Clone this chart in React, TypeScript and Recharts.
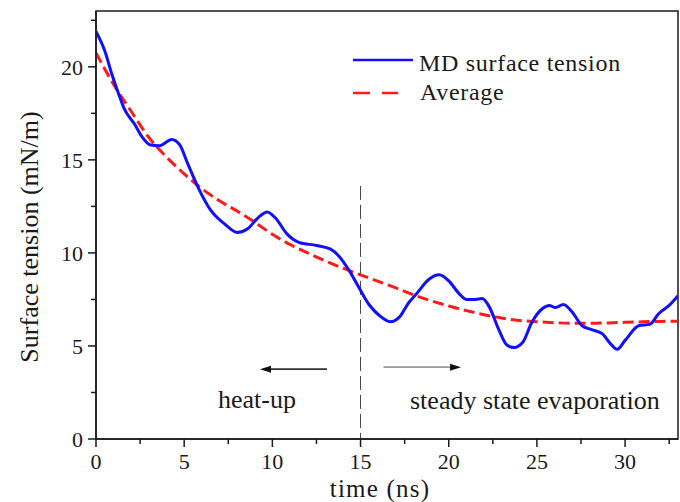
import React from 'react';
import { LineChart, Line, XAxis, YAxis, ReferenceLine, ReferenceArea } from 'recharts';

// MD surface tension
const mdTime = [0, 0.5, 0.9, 1.3, 1.6, 2.2, 2.6, 3.1, 3.6, 4.3, 4.75, 5.2, 5.8, 6.5, 7.3, 8.0, 8.6, 9.2, 9.7, 10.2, 10.8, 11.5, 12.5, 13.3, 13.8, 14.35, 14.9, 15.5, 16.05, 16.7, 17.2, 17.75, 18.1, 18.9, 19.45, 20.0, 20.6, 21.0, 21.5, 21.9, 22.3, 22.85, 23.3, 23.7, 24.2, 24.7, 25.3, 25.7, 26.05, 26.5, 27.0, 27.55, 28.1, 28.7, 29.1, 29.55, 30.0, 30.8, 31.4, 31.9, 32.5, 33.0];
const mdTension = [21.9, 20.85, 19.6, 18.5, 17.75, 16.9, 16.25, 15.8, 15.76, 16.1, 15.8, 14.8, 13.5, 12.3, 11.55, 11.1, 11.3, 11.9, 12.2, 11.85, 11.05, 10.57, 10.4, 10.2, 9.8, 9.06, 8.15, 7.2, 6.65, 6.3, 6.55, 7.35, 7.72, 8.6, 8.82, 8.5, 7.8, 7.5, 7.5, 7.55, 7.1, 5.85, 5.05, 4.92, 5.2, 6.25, 7.0, 7.18, 7.06, 7.23, 6.82, 6.1, 5.88, 5.66, 5.2, 4.82, 5.3, 6.1, 6.16, 6.73, 7.18, 7.7];

// Average (fitted) curve
const avgTime = [0, 1, 2, 3, 4, 5, 6, 7, 8, 9, 10, 11, 12, 13, 14, 15, 16, 17, 18, 19, 20, 21, 22, 23, 24, 25, 26, 27, 28, 29, 30, 31, 32, 33];
const avgTension = [20.75, 19.05, 17.6, 16.2, 15.15, 14.25, 13.45, 12.8, 12.25, 11.65, 11.0, 10.45, 10.0, 9.57, 9.18, 8.82, 8.47, 8.12, 7.75, 7.43, 7.15, 6.9, 6.68, 6.5, 6.37, 6.3, 6.25, 6.22, 6.22, 6.24, 6.27, 6.3, 6.32, 6.33];

const xTicks = [0, 2.5, 5, 7.5, 10, 12.5, 15, 17.5, 20, 22.5, 25, 27.5, 30, 32.5];
const yTicks = [0, 2.5, 5, 7.5, 10, 12.5, 15, 17.5, 20, 22.5];
const xDomain = [0, 33];
const yDomain = [0, 23];

const seriesNames = ['MD surface tension', 'Average'];
const xTitle = 'time (ns)';
const yTitle = 'Surface tension (mN/m)';
const leftNote = 'heat-up';
const rightNote = 'steady state evaporation';

// divider and arrows (data coordinates)
const dividerTime = 15;
const dividerTop = 13.6;
const leftArrow = { from: 13.1, to: 9.3, y: 3.75 };
const rightArrow = { from: 16.3, to: 20.7, y: 3.86 };

const mdData = mdTime.map((t, i) => ({ t, v: mdTension[i] }));
const avgData = avgTime.map((t, i) => ({ t, v: avgTension[i] }));

const FONT = '"Liberation Serif", "Times New Roman", Times, serif';
const INK = '#1a1a1a';

const XTick = (props: any) => {
  const { x, y, payload } = props;
  const major = payload.value % 5 === 0;
  return (
    <g>
      <line x1={x} y1={y} x2={x} y2={y + (major ? 8 : 5)} stroke={INK} strokeWidth={1.5} />
      {major && (
        <text x={x} y={y + 30} textAnchor="middle" fontSize={22} fontFamily={FONT} fill={INK}>
          {payload.value}
        </text>
      )}
    </g>
  );
};

const YTick = (props: any) => {
  const { x, y, payload } = props;
  const major = payload.value % 5 === 0;
  return (
    <g>
      <line x1={x - (major ? 8 : 5)} y1={y} x2={x} y2={y} stroke={INK} strokeWidth={1.5} />
      {major && (
        <text x={x - 13} y={y} dy="0.35em" textAnchor="end" fontSize={22} fontFamily={FONT} fill={INK}>
          {payload.value}
        </text>
      )}
    </g>
  );
};

const arrowShape = (lineColor: string) => (props: any) => {
  const { x1, y1, x2, y2 } = props;
  const dir = x2 > x1 ? 1 : -1;
  const headLen = 11;
  const headHalf = 3.5;
  return (
    <g>
      <line x1={x1} y1={y1} x2={x2 - dir * headLen} y2={y2} stroke={lineColor} strokeWidth={1.8} />
      <polygon
        points={`${x2},${y2} ${x2 - dir * headLen},${y2 - headHalf} ${x2 - dir * headLen},${y2 + headHalf}`}
        fill="#111"
      />
    </g>
  );
};

export default function App() {
  return (
    <div style={{ position: 'absolute', left: 0, top: 0 }}>
      <LineChart width={680} height={502} margin={{ top: 11, right: 2, bottom: 0, left: 0 }}>
        <XAxis
          type="number"
          dataKey="t"
          domain={xDomain}
          ticks={xTicks}
          interval={0}
          allowDataOverflow
          height={63}
          tickSize={0}
          tickMargin={0}
          tickLine={false}
          tick={<XTick />}
          axisLine={{ stroke: INK, strokeWidth: 1.5 }}
        />
        <YAxis
          type="number"
          dataKey="v"
          domain={yDomain}
          ticks={yTicks}
          interval={0}
          allowDataOverflow
          width={96}
          tickSize={0}
          tickMargin={0}
          tickLine={false}
          tick={<YTick />}
          axisLine={{ stroke: INK, strokeWidth: 1.5 }}
        />
        <ReferenceArea x1={xDomain[0]} x2={xDomain[1]} y1={yDomain[0]} y2={yDomain[1]} fill="none" fillOpacity={0} stroke={INK} strokeWidth={1.5} />
        <ReferenceLine
          segment={[{ x: dividerTime, y: dividerTop }, { x: dividerTime, y: 0 }]}
          stroke="#444"
          strokeWidth={1}
          strokeDasharray="14 5"
        />
        <ReferenceLine
          segment={[{ x: leftArrow.from, y: leftArrow.y }, { x: leftArrow.to, y: leftArrow.y }]}
          shape={arrowShape('#333')}
        />
        <ReferenceLine
          segment={[{ x: rightArrow.from, y: rightArrow.y }, { x: rightArrow.to, y: rightArrow.y }]}
          shape={arrowShape('#999')}
        />
        <Line
          data={avgData}
          dataKey="v"
          type="monotone"
          stroke="#ff1a1a"
          strokeWidth={3}
          strokeDasharray="11 5"
          dot={false}
          isAnimationActive={false}
          name={seriesNames[1]}
        />
        <Line
          data={mdData}
          dataKey="v"
          type="monotone"
          stroke="#1010ff"
          strokeWidth={3}
          dot={false}
          isAnimationActive={false}
          name={seriesNames[0]}
        />
        <g fontFamily={FONT} fill={INK}>
          <line x1={353} x2={413} y1={60} y2={60} stroke="#1010ff" strokeWidth={2.5} />
          <text x={419} y={71} fontSize={24} letterSpacing={0.7}>{seriesNames[0]}</text>
          <line x1={353} x2={398} y1={93} y2={93} stroke="#ff1a1a" strokeWidth={2.5} strokeDasharray="17 12" />
          <text x={420} y={100} fontSize={24} letterSpacing={0.7}>{seriesNames[1]}</text>
          <text x={218} y={408} fontSize={26}>{leftNote}</text>
          <text x={410} y={409} fontSize={26}>{rightNote}</text>
          <text x={380} y={497} fontSize={25} textAnchor="middle" letterSpacing={1.2}>{xTitle}</text>
          <text x={38} y={237} fontSize={26} textAnchor="middle" transform="rotate(-90 38 237)">{yTitle}</text>
        </g>
      </LineChart>
    </div>
  );
}
